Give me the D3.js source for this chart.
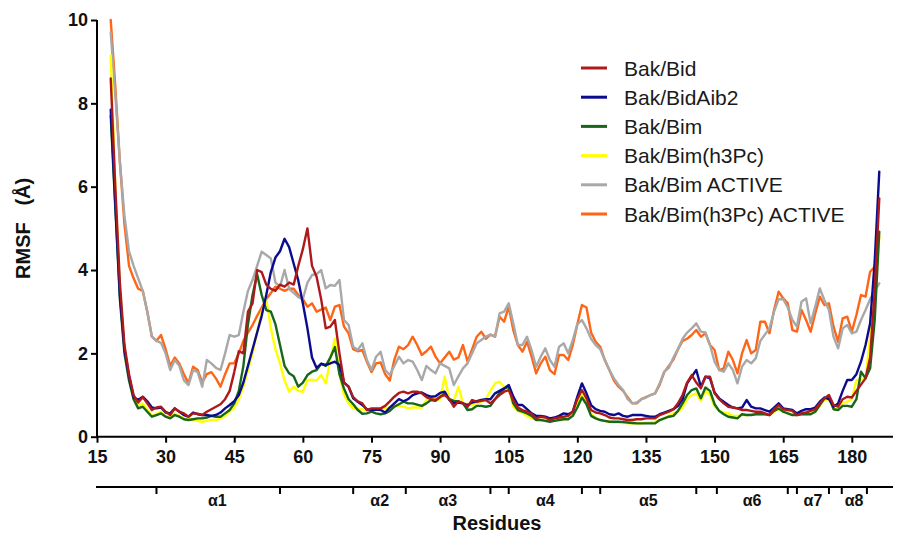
<!DOCTYPE html>
<html>
<head>
<meta charset="utf-8">
<script src="https://cdn.jsdelivr.net/npm/d3@7"></script>
<style>
  html, body { margin: 0; padding: 0; background: #fff; }
  svg { display: block; font-family: Arial, "Liberation Sans", sans-serif; }
</style>
</head>
<body>
<svg id="chart" width="897" height="534"></svg>
<script>
// ---------------- DATA ----------------
const seriesNames = ["Bak/Bid", "Bak/BidAib2", "Bak/Bim", "Bak/Bim(h3Pc)", "Bak/Bim ACTIVE", "Bak/Bim(h3Pc) ACTIVE"];
const seriesColors = ["#ad1a1c", "#0b0b8f", "#17661a", "#ffff00", "#a8a8a8", "#ff6517"];
const firstResidue = 18;

const bakBid = [
  8.6, 6.0, 3.7, 2.2, 1.5, 1.0, 0.82, 0.95, 0.8, 0.64,
  0.7, 0.72, 0.6, 0.52, 0.68, 0.6, 0.56, 0.48, 0.56, 0.55,
  0.52, 0.6, 0.66, 0.72, 0.78, 0.9, 1.1, 1.55, 2.05, 2.0,
  3.0, 3.2, 4.0, 3.95, 3.65, 3.55, 3.5, 3.65, 3.6, 3.7,
  3.65, 4.1, 4.5, 5.0, 4.1, 3.84, 3.3, 2.6, 2.64, 2.8,
  2.0, 1.3, 1.2, 0.95, 0.85, 0.8, 0.64, 0.68, 0.68, 0.68,
  0.74, 0.85, 0.96, 1.05, 1.08, 1.04, 1.08, 1.08, 1.04, 0.95,
  0.9, 0.88, 0.96, 1.0, 0.9, 0.72, 0.85, 0.8, 0.72, 0.88,
  0.84, 0.86, 0.88, 0.8, 0.9, 1.0, 1.08, 1.12, 0.88, 0.7,
  0.64, 0.6, 0.55, 0.44, 0.48, 0.46, 0.4, 0.44, 0.46, 0.48,
  0.5, 0.6, 0.9, 1.12, 0.92, 0.64, 0.58, 0.56, 0.52, 0.46,
  0.44, 0.44, 0.42, 0.4, 0.4, 0.42, 0.42, 0.44, 0.44, 0.44,
  0.52, 0.56, 0.6, 0.66, 0.8, 1.0, 1.3, 1.48, 1.3, 1.16,
  1.44, 1.44, 1.04, 0.9, 0.8, 0.72, 0.7, 0.68, 0.64, 0.64,
  0.62, 0.6, 0.6, 0.56, 0.52, 0.66, 0.76, 0.66, 0.64, 0.62,
  0.52, 0.56, 0.58, 0.62, 0.66, 0.8, 0.92, 1.0, 0.76, 0.72,
  0.9, 0.96, 0.94, 1.1, 1.25, 1.4, 1.9, 3.5, 5.72
];
const bakBidAib2 = [
  7.85, 5.6, 3.4, 2.1, 1.45, 0.95, 0.88, 0.96, 0.85, 0.7,
  0.68, 0.7, 0.58, 0.56, 0.68, 0.6, 0.52, 0.48, 0.58, 0.54,
  0.52, 0.52, 0.5, 0.52, 0.58, 0.68, 0.76, 0.85, 1.0, 1.3,
  1.7, 2.1, 2.5, 2.9, 3.4, 3.95, 4.3, 4.45, 4.75, 4.55,
  4.15, 3.75, 3.2, 2.6, 1.9, 1.65, 1.75, 1.72, 1.76, 1.8,
  1.72, 1.3, 1.2, 0.92, 0.84, 0.76, 0.66, 0.64, 0.65, 0.64,
  0.58, 0.7, 0.8, 0.9, 0.85, 0.9, 1.0, 1.04, 1.06, 1.0,
  0.96, 0.97, 1.05, 1.08, 0.88, 0.8, 0.82, 0.8, 0.76, 0.82,
  0.85, 0.88, 0.9, 0.9, 1.04, 1.1, 1.16, 1.24, 0.96, 0.76,
  0.76, 0.66, 0.56, 0.5, 0.5, 0.48, 0.44, 0.46, 0.5, 0.56,
  0.54, 0.6, 0.96, 1.28, 1.04, 0.76, 0.66, 0.62, 0.6, 0.54,
  0.52, 0.56, 0.5, 0.48, 0.52, 0.52, 0.52, 0.5, 0.48, 0.48,
  0.54, 0.58, 0.62, 0.66, 0.74, 0.9, 1.28, 1.44, 1.6, 1.2,
  1.44, 1.4, 1.06, 0.92, 0.84, 0.76, 0.7, 0.68, 0.7, 0.88,
  0.72, 0.68, 0.68, 0.64, 0.6, 0.7, 0.8, 0.68, 0.66, 0.64,
  0.56, 0.62, 0.66, 0.66, 0.7, 0.84, 0.94, 0.9, 0.72, 0.8,
  1.1, 1.36, 1.36, 1.5, 1.8, 2.2, 2.72, 4.2, 6.36
];
const bakBim = [
  7.7, 5.5, 3.3, 2.0, 1.35, 0.9, 0.68, 0.72, 0.6, 0.48,
  0.52, 0.56, 0.48, 0.44, 0.52, 0.48, 0.42, 0.4, 0.42, 0.44,
  0.44, 0.46, 0.5, 0.48, 0.48, 0.56, 0.64, 0.8, 1.1, 1.7,
  2.7, 3.4, 3.9, 3.4, 3.04, 3.0, 2.7, 2.2, 1.7, 1.52,
  1.45, 1.2, 1.3, 1.48, 1.56, 1.6, 1.75, 1.7, 1.9, 2.15,
  1.5, 1.15, 0.9, 0.78, 0.64, 0.55, 0.56, 0.6, 0.56, 0.54,
  0.56, 0.62, 0.72, 0.78, 0.84, 0.8, 0.8, 0.77, 0.74, 0.8,
  0.88, 0.86, 0.95, 1.04, 0.9, 0.86, 0.85, 0.8, 0.64, 0.66,
  0.74, 0.74, 0.72, 0.74, 0.9, 1.05, 1.15, 1.2, 0.8, 0.64,
  0.6, 0.56, 0.5, 0.4, 0.4, 0.38, 0.36, 0.38, 0.4, 0.42,
  0.42, 0.5, 0.7, 0.94, 0.78, 0.5, 0.44, 0.4, 0.38, 0.36,
  0.36, 0.36, 0.35, 0.34, 0.33, 0.32, 0.32, 0.32, 0.32, 0.32,
  0.4, 0.44, 0.48, 0.5, 0.62, 0.8, 1.0, 1.12, 1.16, 0.92,
  1.18, 1.1, 0.78, 0.62, 0.54, 0.48, 0.46, 0.44, 0.54, 0.52,
  0.52, 0.54, 0.54, 0.54, 0.52, 0.62, 0.68, 0.6, 0.56, 0.52,
  0.52, 0.54, 0.54, 0.54, 0.6, 0.76, 0.92, 0.96, 0.66, 0.64,
  0.74, 0.74, 0.72, 0.9, 1.56, 1.4, 1.64, 2.8, 4.92
];
const bakBimH3Pc = [
  9.15, 6.0, 3.5, 2.1, 1.4, 0.9, 0.75, 0.8, 0.65, 0.5,
  0.55, 0.6, 0.5, 0.46, 0.55, 0.5, 0.44, 0.42, 0.4, 0.38,
  0.36, 0.38, 0.4, 0.4, 0.44, 0.5, 0.6, 0.7, 0.9, 1.2,
  1.6, 2.0, 2.5, 3.0, 3.3, 2.6, 2.1, 1.76, 1.35, 1.08,
  1.2, 1.1, 1.08, 1.36, 1.36, 1.35, 1.48, 1.28, 1.84, 2.36,
  1.5, 1.0, 0.8, 0.68, 0.66, 0.66, 0.64, 0.64, 0.66, 0.66,
  0.68, 0.7, 0.76, 0.74, 0.72, 0.68, 0.7, 0.7, 0.7, 0.88,
  0.95, 0.88, 0.9, 1.44, 0.9, 0.86, 1.2, 0.8, 0.78, 0.75,
  0.8, 0.84, 0.9, 1.1, 1.28, 1.32, 1.2, 1.16, 0.72, 0.62,
  0.58, 0.5, 0.44, 0.42, 0.4, 0.4, 0.38, 0.4, 0.42, 0.42,
  0.44, 0.55, 0.8, 1.0, 0.8, 0.56, 0.46, 0.4, 0.38, 0.36,
  0.34, 0.34, 0.34, 0.32, 0.32, 0.32, 0.32, 0.34, 0.34, 0.36,
  0.4, 0.44, 0.5, 0.56, 0.6, 0.7, 0.9, 1.0, 1.04, 0.86,
  1.1, 1.0, 0.72, 0.62, 0.58, 0.56, 0.5, 0.5, 0.52, 0.52,
  0.54, 0.54, 0.54, 0.54, 0.52, 0.6, 0.66, 0.6, 0.56, 0.54,
  0.52, 0.54, 0.54, 0.56, 0.6, 0.74, 0.88, 0.9, 0.66, 0.66,
  0.8, 0.84, 0.9, 1.36, 1.36, 1.4, 2.4, 3.3, 4.8
];
const bakBimActive = [
  9.7, 8.2, 6.6, 5.3, 4.45, 4.1, 3.8, 3.5, 3.0, 2.4,
  2.3, 2.25, 2.0, 1.6, 1.84, 1.7, 1.35, 1.24, 1.6, 1.55,
  1.2, 1.84, 1.76, 1.65, 1.6, 2.0, 2.44, 2.4, 2.44, 3.0,
  3.5, 3.76, 4.1, 4.44, 4.36, 4.28, 3.7, 3.6, 4.0, 3.55,
  3.45, 3.35, 3.3, 3.7, 3.88, 3.9, 4.0, 3.56, 3.64, 3.62,
  3.76, 2.8, 2.68, 2.16, 2.08, 2.24, 1.84, 1.6, 1.92, 2.04,
  1.6, 1.48, 1.7, 1.92, 1.76, 1.84, 1.8, 1.6, 1.36, 1.7,
  1.6, 1.52, 1.76, 1.7, 1.64, 1.24, 1.45, 1.64, 1.76, 2.0,
  2.24, 2.32, 2.4, 2.45, 2.4, 2.96, 3.0, 3.2, 2.72, 2.2,
  2.2, 2.4, 2.08, 1.68, 1.92, 2.12, 1.84, 1.68, 2.16, 2.24,
  2.0, 2.32, 2.7, 2.8, 2.6, 2.35, 2.2, 2.1, 1.84, 1.6,
  1.4, 1.24, 1.12, 0.9, 0.8, 0.82, 0.9, 0.94, 1.0, 1.04,
  1.28, 1.56, 1.65, 1.9, 2.1, 2.35, 2.5, 2.6, 2.72, 2.52,
  2.5, 2.2, 1.8, 1.6, 1.56, 1.76, 1.6, 1.28, 1.68, 1.84,
  1.76, 1.88, 2.3, 2.45, 2.6, 3.0, 3.3, 3.3, 3.1, 2.8,
  2.64, 3.24, 3.32, 2.72, 3.12, 3.56, 3.28, 3.04, 2.4, 2.12,
  2.6, 2.68, 2.48, 2.52, 2.8, 3.04, 3.3, 3.5, 3.68
];
const bakBimH3PcActive = [
  10.0, 8.4, 6.6, 5.1, 4.1, 3.8, 3.55, 3.5, 3.0, 2.4,
  2.3, 2.44, 2.1, 1.7, 1.9, 1.75, 1.5, 1.28, 1.68, 1.6,
  1.3, 1.5, 1.55, 1.4, 1.2, 1.5, 1.76, 1.76, 2.0, 2.3,
  2.5, 2.68, 2.9, 3.1, 3.3, 3.45, 3.6, 3.55, 3.5, 3.55,
  3.55, 3.4, 3.3, 3.12, 3.2, 3.0, 3.05, 3.1, 2.8, 3.12,
  3.16, 2.64, 2.48, 2.1, 2.05, 2.08, 1.8, 1.55, 1.76, 1.78,
  1.5, 1.35, 1.85, 2.16, 2.1, 2.2, 2.4, 2.2, 1.96, 2.05,
  2.16, 1.92, 1.76, 1.9, 2.04, 1.85, 1.9, 2.2, 1.8, 2.1,
  2.4, 2.52, 2.35, 2.45, 2.4, 2.88, 2.76, 3.12, 2.56, 2.2,
  2.04, 2.28, 1.92, 1.52, 1.76, 1.92, 1.6, 1.5, 1.96, 1.96,
  1.84, 2.2, 2.7, 3.16, 3.1, 2.5, 2.28, 2.16, 1.84, 1.6,
  1.35, 1.2, 1.1, 0.95, 0.8, 0.8, 0.9, 0.95, 1.0, 1.04,
  1.25, 1.55, 1.7, 1.85, 2.1, 2.3, 2.35, 2.44, 2.56, 2.4,
  2.48, 2.2, 2.08, 1.6, 1.64, 2.04, 1.84, 1.52, 2.0, 2.32,
  2.0, 2.08, 2.76, 2.76, 2.48, 3.04, 3.48, 3.32, 3.2, 2.56,
  2.52, 3.04, 2.8, 2.52, 2.96, 3.36, 3.16, 3.2, 2.64, 2.28,
  2.84, 2.88, 2.52, 2.92, 3.4, 3.36, 3.96, 4.08
];
const seriesValues = [bakBid, bakBidAib2, bakBim, bakBimH3Pc, bakBimActive, bakBimH3PcActive];

const xTicks = [15, 30, 45, 60, 75, 90, 105, 120, 135, 150, 165, 180];
const yTicks = [0, 2, 4, 6, 8, 10];
const helixBounds = [28, 55, 71, 82.5, 101, 105, 121, 125, 146, 150.5, 166, 168, 175, 177.8, 183.3];
const helixLabels = ["α1", "α2", "α3", "α4", "α5", "α6", "α7", "α8"];
const helixLabelPos = [41.3, 76.8, 91.7, 113, 135.5, 158.2, 171.5, 180.5];
const xTitle = "Residues";
const yTitle = "RMSF   (Å)";

// ---------------- DRAW ----------------
const svg = d3.select("#chart");
const x = d3.scaleLinear().domain([15, 189]).range([97, 893]);
const y = d3.scaleLinear().domain([0, 10]).range([436.7, 20]);

const tickFont = "bold 18px Arial, 'Liberation Sans', sans-serif";

// Y axis
const yAxis = svg.append("g").attr("transform", "translate(97,0)")
  .call(d3.axisLeft(y).tickValues(yTicks).tickSize(6).tickPadding(3).tickFormat(d3.format("d")));
yAxis.select(".domain").attr("stroke", "#000").attr("stroke-width", 2).attr("d", `M0,${y(10)}V${y(0)}`);
yAxis.selectAll(".tick line").attr("stroke", "#000").attr("stroke-width", 2);
yAxis.selectAll(".tick text").style("font", tickFont).attr("fill", "#111");

// X axis
const xAxis = svg.append("g").attr("transform", `translate(0,${y(0)})`)
  .call(d3.axisBottom(x).tickValues(xTicks).tickSize(6).tickPadding(8));
xAxis.select(".domain").attr("stroke", "#000").attr("stroke-width", 2).attr("d", `M${x(15)},0H${x(189)}`);
xAxis.selectAll(".tick line").attr("stroke", "#000").attr("stroke-width", 2);
xAxis.selectAll(".tick text").style("font", tickFont).attr("fill", "#111");

// Helix axis
const hy = 487;
const helix = svg.append("g");
helix.append("line").attr("x1", x(15) - 1).attr("x2", x(189)).attr("y1", hy).attr("y2", hy)
  .attr("stroke", "#000").attr("stroke-width", 2);
helix.selectAll("line.ht").data(helixBounds).enter().append("line").attr("class", "ht")
  .attr("x1", d => x(d)).attr("x2", d => x(d)).attr("y1", hy).attr("y2", hy + 7)
  .attr("stroke", "#000").attr("stroke-width", 2);
helix.selectAll("text").data(helixLabels).enter().append("text")
  .attr("x", (d, i) => x(helixLabelPos[i])).attr("y", 506)
  .attr("text-anchor", "middle").style("font", "bold 16px Arial, 'Liberation Sans', sans-serif")
  .attr("fill", "#111").text(d => d);

// Axis titles
svg.append("text").attr("x", 497).attr("y", 530).attr("text-anchor", "middle")
  .style("font", "bold 20px Arial, 'Liberation Sans', sans-serif").attr("fill", "#111").text(xTitle);
svg.append("text").attr("transform", `translate(30,${(y(0) + y(10)) / 2}) rotate(-90)`)
  .attr("text-anchor", "middle").style("font", "bold 20px Arial, 'Liberation Sans', sans-serif")
  .style("white-space", "pre").attr("xml:space", "preserve").attr("fill", "#111").text(yTitle);

// Lines
const line = d3.line().x(d => x(d.r)).y(d => y(d.v)).curve(d3.curveLinear);
const drawOrder = [5, 4, 3, 2, 1, 0];
const lines = svg.append("g").attr("fill", "none").attr("stroke-width", 2.4)
  .attr("stroke-linejoin", "round").attr("stroke-linecap", "round");
drawOrder.forEach(i => {
  const pts = seriesValues[i].map((v, k) => ({ r: firstResidue + k, v }));
  lines.append("path").attr("d", line(pts)).attr("stroke", seriesColors[i]);
});

// Legend
const legend = svg.append("g");
seriesNames.forEach((name, i) => {
  const ly = 68 + i * 29.2;
  legend.append("line").attr("x1", 581).attr("x2", 607).attr("y1", ly).attr("y2", ly)
    .attr("stroke", seriesColors[i]).attr("stroke-width", 3);
  legend.append("text").attr("x", 624).attr("y", ly).attr("dy", "0.36em")
    .style("font", "21px Arial, 'Liberation Sans', sans-serif").attr("fill", "#1a1a1a").text(name);
});
</script>
</body>
</html>
